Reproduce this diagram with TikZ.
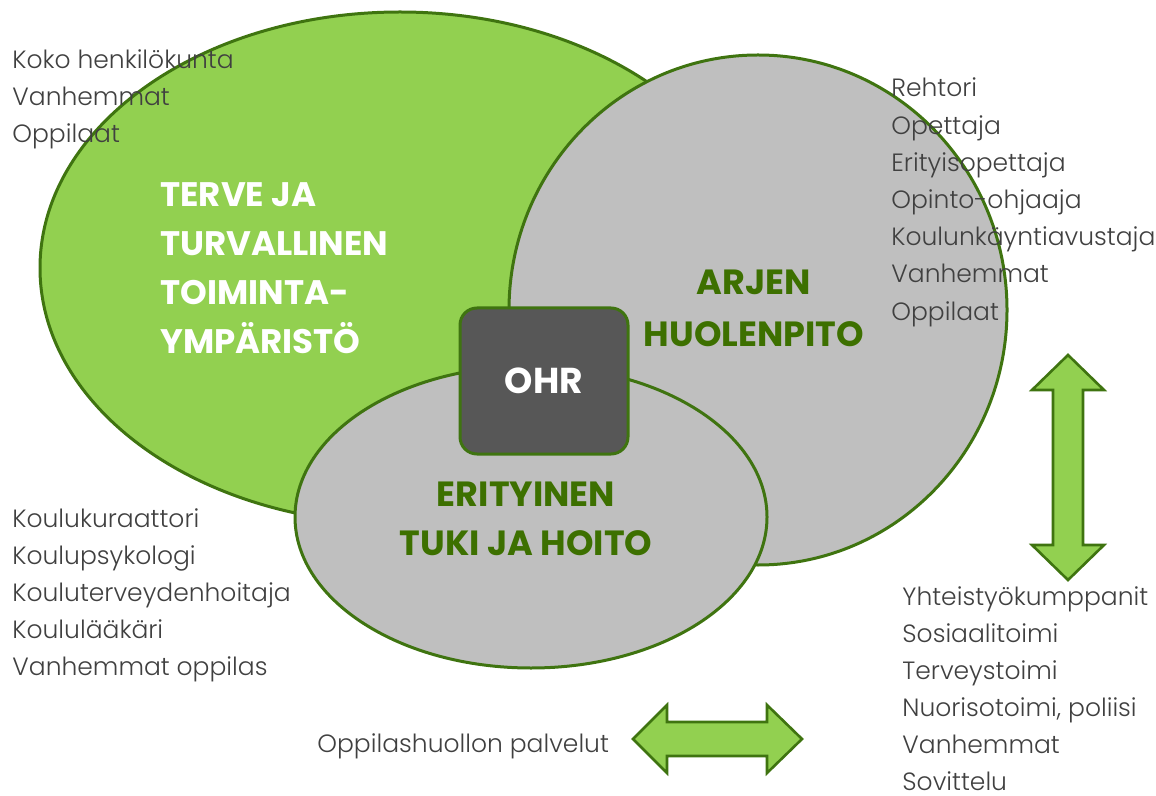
\documentclass[tikz,border=0pt]{standalone}
\usepackage{fontspec}
\setmainfont{Poppins}[UprightFont=* Light, BoldFont=* Bold]
\usepackage{tikz}
\usetikzlibrary{positioning}
\definecolor{leafgreen}{HTML}{92D050}
\definecolor{darkleaf}{HTML}{3F7410}
\definecolor{headgreen}{HTML}{3D7000}
\definecolor{zonegray}{HTML}{BFBFBF}
\definecolor{boxgray}{HTML}{575757}
\definecolor{textgray}{HTML}{404040}

\begin{document}
\begin{tikzpicture}[x=0.5pt,y=-0.5pt,
    zone/.style={draw=darkleaf, line width=1.5pt},
    listtext/.style={anchor=base west, inner sep=0pt, text=textgray, font=\fontsize{12.5}{14}\selectfont},
    heading/.style={inner sep=0pt, text=headgreen, font=\bfseries\fontsize{17}{24.5}\selectfont},
    twoway/.style={draw=darkleaf, line width=1.3pt, fill=leafgreen, line join=miter}]
  \useasboundingbox (0,0) rectangle (1156,796);

  % the three areas
  \fill[leafgreen, zone] (400,268) ellipse [x radius=180pt, y radius=128pt];
  \fill[zonegray, zone] (758,310) ellipse [x radius=124.5pt, y radius=127.5pt];
  \fill[zonegray, zone] (531,517) ellipse [x radius=118pt, y radius=75.5pt];

  \node[draw=darkleaf, line width=1.5pt, fill=boxgray, rounded corners=8.5pt,
        minimum width=84pt, minimum height=73pt, text=white,
        font=\bfseries\fontsize{18}{20}\selectfont] (ohr) at (544,381) {OHR};

  % area titles
  \node[heading, text=white, align=left, anchor=north west] (terve) at (160,182)
    {TERVE JA\\TURVALLINEN\\TOIMINTA-\\YMPÄRISTÖ};
  \node[heading, align=center, anchor=north, font=\bfseries\fontsize{17.5}{26}\selectfont] (arjen) at (754,270)
    {ARJEN\\HUOLENPITO};
  \node[heading, align=center, anchor=north, font=\bfseries\fontsize{17.5}{24.5}\selectfont] (tuki) at (526,482)
    {ERITYINEN\\TUKI JA HOITO};

  % people lists
  \foreach \t [count=\i] in {Koko henkilökunta, Vanhemmat, Oppilaat}
    \node[listtext] (staff\i) at (12, 69+37*\i-37) {\t};
  \foreach \t [count=\i] in {Rehtori, Opettaja, Erityisopettaja, Opinto-ohjaaja,
      Koulunkäyntiavustaja, Vanhemmat, Oppilaat}
    \node[listtext] (daily\i) at (891, 97+37.2*\i-37.2) {\t};
  \foreach \t [count=\i] in {Koulukuraattori, Koulupsykologi, Kouluterveydenhoitaja,
      Koululääkäri, Vanhemmat oppilas}
    \node[listtext] (care\i) at (12, 527+37*\i-37) {\t};
  \foreach \t [count=\i] in {Yhteistyökumppanit, Sosiaalitoimi, Terveystoimi,
      {Nuorisotoimi, poliisi}, Vanhemmat, Sovittelu}
    \node[listtext] (partner\i) at (902, 605+37*\i-37) {\t};
  \node[listtext] (services) at (317,752) {Oppilashuollon palvelut};

  % double arrows
  \draw[twoway] (633,739) -- (667,705) -- (667,722) -- (767,722) -- (767,705) -- (802,739)
    -- (767,773) -- (767,756) -- (667,756) -- (667,773) -- cycle;
  \draw[twoway] (1068,355) -- (1104,390) -- (1083,390) -- (1083,545) -- (1104,545) -- (1068,580)
    -- (1032,545) -- (1053,545) -- (1053,390) -- (1032,390) -- cycle;
\end{tikzpicture}
\end{document}
